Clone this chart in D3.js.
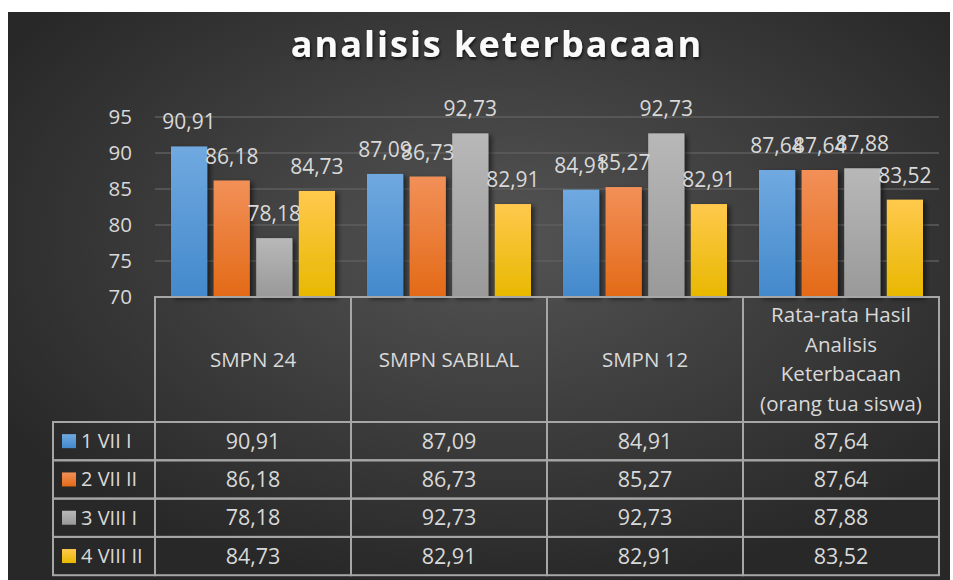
<!DOCTYPE html>
<html>
<head>
<meta charset="utf-8">
<script src="https://cdn.jsdelivr.net/npm/d3@7"></script>
<style>
  html, body { margin: 0; padding: 0; background: #fff; }
  svg { display: block; }
</style>
</head>
<body>
<div id="chart"></div>
<script>
const categories = ["SMPN 24", "SMPN SABILAL", "SMPN 12", "Rata-rata Hasil Analisis Keterbacaan (orang tua siswa)"];
const categoryLines = [["SMPN 24"], ["SMPN SABILAL"], ["SMPN 12"], ["Rata-rata Hasil", "Analisis", "Keterbacaan", "(orang tua siswa)"]];
const seriesNames = ["1 VII I", "2 VII II", "3 VIII I", "4 VIII II"];
const s1 = [90.91, 87.09, 84.91, 87.64];
const s2 = [86.18, 86.73, 85.27, 87.64];
const s3 = [78.18, 92.73, 92.73, 87.88];
const s4 = [84.73, 82.91, 82.91, 83.52];
const yTicks = [70, 75, 80, 85, 90, 95];

const seriesValues = [s1, s2, s3, s4];
const colors = [
  ["#70a9e0", "#4389cc"],
  ["#f29058", "#e36a17"],
  ["#b8b8b8", "#999999"],
  ["#ffc94d", "#e8b800"]
];

const width = 953, height = 580;
const fmt = d3.formatLocale({decimal: ",", thousands: ".", grouping: [3], currency: ["", ""]}).format(".2f");
const textColor = "#d9d9d9";
const font = "'Open Sans', sans-serif";

const svg = d3.select("#chart").append("svg")
  .attr("width", width).attr("height", height);

const defs = svg.append("defs");
const bg = defs.append("radialGradient").attr("id", "bg")
  .attr("cx", "52%").attr("cy", "40%").attr("r", "62%");
bg.append("stop").attr("offset", "0%").attr("stop-color", "#545454");
bg.append("stop").attr("offset", "100%").attr("stop-color", "#282828");

colors.forEach((c, i) => {
  const g = defs.append("linearGradient").attr("id", "bar" + i)
    .attr("x1", 0).attr("y1", 0).attr("x2", 0).attr("y2", 1);
  g.append("stop").attr("offset", "0%").attr("stop-color", c[0]);
  g.append("stop").attr("offset", "100%").attr("stop-color", c[1]);
});

const shadow = defs.append("filter").attr("id", "shadow")
  .attr("x", "-20%").attr("y", "-20%").attr("width", "160%").attr("height", "140%");
shadow.append("feDropShadow").attr("dx", 3).attr("dy", 2).attr("stdDeviation", 2.5)
  .attr("flood-color", "#000").attr("flood-opacity", 0.55);

const tshadow = defs.append("filter").attr("id", "tshadow");
tshadow.append("feDropShadow").attr("dx", 1).attr("dy", 2).attr("stdDeviation", 1.5)
  .attr("flood-color", "#000").attr("flood-opacity", 0.7);

svg.append("rect").attr("x", 8).attr("y", 12).attr("width", 942).attr("height", 568)
  .attr("fill", "url(#bg)");

// title
svg.append("text")
  .attr("x", 497).attr("y", 57)
  .attr("text-anchor", "middle")
  .attr("font-family", font)
  .attr("font-weight", "bold")
  .attr("font-size", "36px")
  .attr("letter-spacing", "2px")
  .attr("fill", "#fafafa")
  .attr("filter", "url(#tshadow)")
  .text("analisis keterbacaan");

// scales
const x0 = d3.scaleBand().domain(categories).range([155, 939]).padding(0);
const x1 = d3.scaleBand().domain(seriesNames).range([16, 180]).paddingInner(0.15).paddingOuter(0);
const y = d3.scaleLinear().domain([70, 95]).range([297, 117]);

// gridlines
svg.append("g").selectAll("line").data(yTicks.slice(1)).join("line")
  .attr("x1", 155).attr("x2", 939)
  .attr("y1", d => y(d)).attr("y2", d => y(d))
  .attr("stroke", "#5e5e5e").attr("stroke-width", 1.5);

// y axis labels
svg.append("g").selectAll("text").data(yTicks).join("text")
  .attr("x", 132).attr("y", d => y(d))
  .attr("dy", "0.35em")
  .attr("text-anchor", "end")
  .attr("font-family", font)
  .attr("font-size", "20.5px")
  .attr("fill", textColor)
  .text(d => d);

// bars
const groups = svg.append("g").selectAll("g").data(categories).join("g")
  .attr("transform", d => "translate(" + x0(d) + ",0)");

groups.selectAll("rect")
  .data((d, ci) => seriesNames.map((s, si) => ({s: s, si: si, v: seriesValues[si][ci]})))
  .join("rect")
  .attr("x", d => x1(d.s))
  .attr("y", d => y(d.v))
  .attr("width", x1.bandwidth())
  .attr("height", d => y(70) - y(d.v))
  .attr("fill", d => "url(#bar" + d.si + ")")
  .attr("filter", "url(#shadow)");

groups.selectAll("text.val")
  .data((d, ci) => seriesNames.map((s, si) => ({s: s, si: si, v: seriesValues[si][ci]})))
  .join("text")
  .attr("class", "val")
  .attr("x", d => x1(d.s) + x1.bandwidth() / 2)
  .attr("y", d => y(d.v) - 17)
  .attr("text-anchor", "middle")
  .attr("font-family", font)
  .attr("font-size", "21px")
  .attr("fill", textColor)
  .text(d => fmt(d.v));

// data table
const tableTop = 297, headerBottom = 422, rowH = 38.3, labelLeft = 53;
const rowY = d3.scaleBand().domain(seriesNames).range([headerBottom, headerBottom + rowH * 4]);
const lineColor = "#a6a6a6";
const table = svg.append("g").attr("stroke", lineColor).attr("stroke-width", 2).attr("fill", "none");

// header cells
table.selectAll("rect.head").data(categories).join("rect")
  .attr("class", "head")
  .attr("x", d => x0(d)).attr("y", tableTop)
  .attr("width", x0.bandwidth()).attr("height", headerBottom - tableTop);

// body cells
seriesNames.forEach(s => {
  table.append("rect")
    .attr("x", labelLeft).attr("y", rowY(s))
    .attr("width", 155 - labelLeft).attr("height", rowY.bandwidth());
  categories.forEach(c => {
    table.append("rect")
      .attr("x", x0(c)).attr("y", rowY(s))
      .attr("width", x0.bandwidth()).attr("height", rowY.bandwidth());
  });
});

// header text
categories.forEach((c, i) => {
  const lines = categoryLines[i];
  const lh = 29.5;
  const cy = (tableTop + headerBottom) / 2;
  const t = svg.append("text")
    .attr("text-anchor", "middle")
    .attr("font-family", font)
    .attr("font-size", "20.5px")
    .attr("fill", textColor);
  lines.forEach((l, k) => {
    t.append("tspan")
      .attr("x", x0(c) + x0.bandwidth() / 2)
      .attr("y", cy + (k - (lines.length - 1) / 2) * lh)
      .attr("dy", "0.35em")
      .text(l);
  });
});

// row labels with legend keys
seriesNames.forEach((s, si) => {
  const cy = rowY(s) + rowY.bandwidth() / 2;
  svg.append("rect")
    .attr("x", 62).attr("y", cy - 7)
    .attr("width", 14).attr("height", 14)
    .attr("fill", "url(#bar" + si + ")");
  svg.append("text")
    .attr("x", 81).attr("y", cy).attr("dy", "0.35em")
    .attr("font-family", font)
    .attr("font-size", "20px")
    .attr("fill", textColor)
    .text(s);
  categories.forEach((c, ci) => {
    svg.append("text")
      .attr("x", x0(c) + x0.bandwidth() / 2).attr("y", cy).attr("dy", "0.35em")
      .attr("text-anchor", "middle")
      .attr("font-family", font)
      .attr("font-size", "21.5px")
      .attr("fill", textColor)
      .text(fmt(seriesValues[si][ci]));
  });
});
</script>
</body>
</html>
